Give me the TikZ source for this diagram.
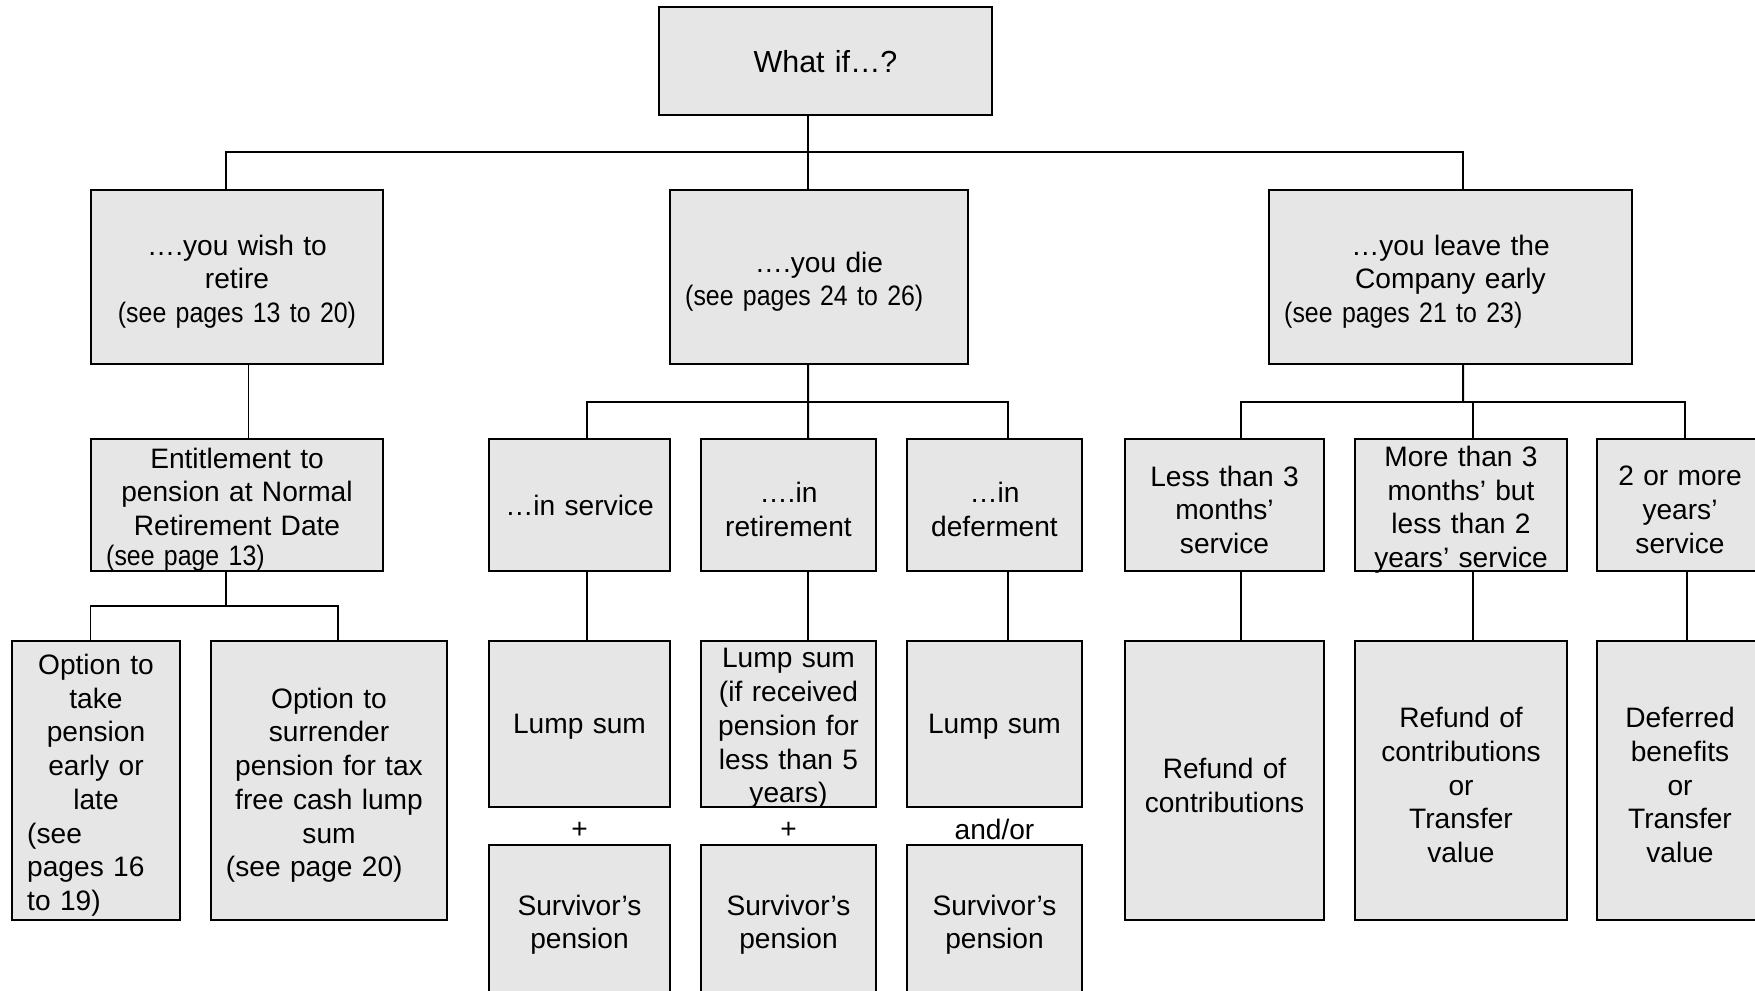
\documentclass[tikz,border=0pt]{standalone}
\usepackage{fontspec}
\setmainfont{Liberation Sans}
\newfontfamily\condfont[FakeStretch=0.885]{Liberation Sans}
\definecolor{boxgray}{RGB}{230,230,230}
\newcommand\pxu{0.015cm}
\newcommand\seeref[1]{\makebox[\hsize][l]{\hspace*{6.5pt}#1}}
\newcommand\smallref{\condfont\fontsize{12}{13}\selectfont}

\begin{document}
\begin{tikzpicture}[
  x=\pxu, y=-\pxu,
  line width=0.85pt,
  box/.style 2 args={rectangle, draw, fill=boxgray, align=center,
              minimum width=#1*\pxu, text width=#1*\pxu, minimum height=#2*\pxu,
              inner xsep=0pt, inner ysep=0pt, font=\fontsize{12}{14.4}\selectfont,
              execute at end node={\endgraf\vspace*{-4pt}}},
  lbl/.style={inner sep=0pt, font=\fontsize{12}{14.4}\selectfont}
]
  \clip (0,0) rectangle (1755,990);
  % top
  \node[box={333}{108}, font=\fontsize{13}{15}\selectfont] (whatif) at (825.5,61) {What if…?};
  \node[box={292}{174}] (retire) at (237,277) {….you wish to\\ retire\\ {\smallref (see pages 13 to 20)}};
  \node[box={298}{174}] (die) at (819,277) {….you die\\ \seeref{\smallref (see pages 24 to 26)}};
  \node[box={363}{174}] (leave) at (1450.5,277) {…you leave the\\ Company early\\ \seeref{\smallref (see pages 21 to 23)}};
  % second row
  \node[box={292}{132}] (entitle) at (237,505) {Entitlement to\\ pension at Normal\\ Retirement Date\\[-1.5pt] \seeref{\smallref (see page 13)}};
  \node[box={181}{132}] (inserv) at (579.5,505) {…in service};
  \node[box={175}{132}] (inret) at (788.5,505) {….in\\ retirement};
  \node[box={175}{132}] (indef) at (994.5,505) {…in\\ deferment};
  \node[box={199}{132}] (less3) at (1224.5,505) {Less than 3\\ months’\\ service};
  \node[box={212}{132}] (more3) at (1461,505) {More than 3\\ months’ but\\ less than 2\\ years’ service};
  \node[box={166}{132}] (twoyrs) at (1680,505) {2 or more\\ years’\\ service};
  % third row
  \node[box={168}{279}] (optearly) at (96,780.5) {Option to\\ take\\ pension\\ early or\\ late\\ \seeref{(see}\\ \seeref{pages 16}\\ \seeref{to 19)}};
  \node[box={236.5}{279}] (optcash) at (329,780.5) {Option to\\ surrender\\ pension for tax\\ free cash lump\\ sum\\ \seeref{(see page 20)}};
  \node[box={181}{166}] (lump1) at (579.5,724) {Lump sum};
  \node[box={175}{166}] (lump2) at (788.5,724) {Lump sum\\ (if received\\ pension for\\ less than 5\\ years)};
  \node[box={175}{166}] (lump3) at (994.5,724) {Lump sum};
  \node[box={181}{150}] (surv1) at (579.5,920) {Survivor’s\\ pension};
  \node[box={175}{150}] (surv2) at (788.5,920) {Survivor’s\\ pension};
  \node[box={175}{150}] (surv3) at (994.5,920) {Survivor’s\\ pension};
  \node[box={199}{279}] (refund) at (1224.5,780.5) {Refund of\\ contributions};
  \node[box={212}{279}] (transfer) at (1461,780.5) {Refund of\\ contributions\\ or\\ Transfer\\ value};
  \node[box={166}{279}] (deferred) at (1680,780.5) {Deferred\\ benefits\\ or\\ Transfer\\ value};
  \node[lbl] (plus1) at (579.5,830) {+};
  \node[lbl] (plus2) at (788.5,830) {+};
  \node[lbl] (andor) at (994.5,829) {and/or};
  % connectors
  \coordinate (b0) at (808,152);
  \coordinate (b1) at (226,605.5);
  \coordinate (b2) at (808,402);
  \coordinate (b3) at (1463,402);
  \draw ([xshift=-17.5*\pxu]whatif.south) -- ([xshift=-11*\pxu]die.north);
  \draw ([xshift=-11*\pxu]retire.north) |- (b0) -| ([xshift=12.5*\pxu]leave.north);
  \draw ([xshift=11.5*\pxu]retire.south) -- ([xshift=11.5*\pxu]entitle.north);
  \draw ([xshift=-11*\pxu]entitle.south) -- (b1);
  \draw ([xshift=-5.5*\pxu]optearly.north) |- (b1) -| ([xshift=9*\pxu]optcash.north);
  \draw ([xshift=-11*\pxu]die.south) -- ([xshift=19.5*\pxu]inret.north);
  \draw ([xshift=7*\pxu]inserv.north) |- (b2) -| ([xshift=13*\pxu]indef.north);
  \draw ([xshift=12.5*\pxu]leave.south) -- (b3);
  \draw ([xshift=16.5*\pxu]less3.north) |- (b3) -| ([xshift=5*\pxu]twoyrs.north);
  \draw ([xshift=12*\pxu]more3.north) -- ([xshift=12*\pxu]more3.north |- b3);
  \foreach \a/\b/\d in {inserv/lump1/7, inret/lump2/19.5, indef/lump3/13,
                        less3/refund/16.5, more3/transfer/12, twoyrs/deferred/7}
    \draw ([xshift=\d*\pxu]\a.south) -- ([xshift=\d*\pxu]\b.north);
\end{tikzpicture}
\end{document}
